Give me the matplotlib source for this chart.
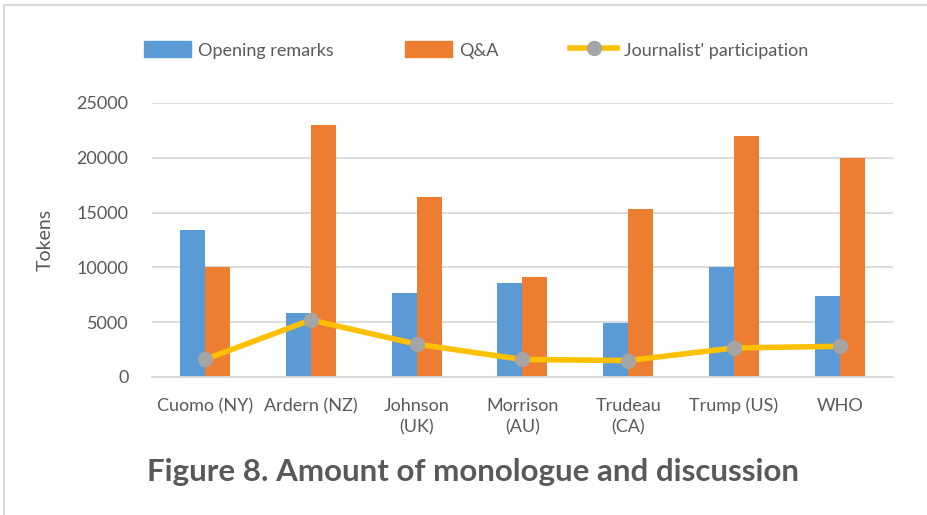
import numpy as np
import matplotlib
matplotlib.use('Agg')
import matplotlib.pyplot as plt
from matplotlib.lines import Line2D
from matplotlib.patches import Patch

plt.rcParams['font.family'] = ['Lato', 'DejaVu Sans']

speakers = ['Cuomo (NY)', 'Ardern (NZ)', 'Johnson\n(UK)', 'Morrison\n(AU)',
            'Trudeau\n(CA)', 'Trump (US)', 'WHO']
opening = [13400, 5850, 7650, 8600, 4900, 10030, 7400]
qa = [10030, 23000, 16450, 9100, 15330, 21950, 19950]
journalist = [1600, 5200, 3000, 1600, 1500, 2650, 2800]

blue = '#5B9BD5'
orange = '#ED7D31'
yellow = '#FFC000'
grey = '#A5A5A5'
txt = '#595959'

fig = plt.figure(figsize=(9.28, 5.15), dpi=100)
ax = fig.add_axes([0.1638, 0.268, 0.7982, 0.532])

x = np.arange(len(speakers))
w = 0.236
ax.bar(x - w / 2, opening, w, color=blue, zorder=2)
ax.bar(x + w / 2, qa, w, color=orange, zorder=2)
ax.plot(x, journalist, color=yellow, lw=4, marker='o', markersize=10,
        markerfacecolor=grey, markeredgecolor=grey, zorder=3)

ax.set_xlim(-0.5, len(speakers) - 0.5)
ax.set_ylim(0, 25000)
ax.set_yticks(np.arange(0, 25001, 5000))
ax.yaxis.grid(True, color='#D9D9D9', lw=1.3, zorder=0)
ax.set_axisbelow(True)
for s in ['top', 'right', 'left']:
    ax.spines[s].set_visible(False)
ax.spines['bottom'].set_color('#D9D9D9')
ax.spines['bottom'].set_linewidth(1.3)
ax.tick_params(axis='both', length=0, labelsize=13, colors=txt)
ax.tick_params(axis='y', pad=17)
ax.tick_params(axis='x', pad=15)
ax.set_xticks(x)
ax.set_xticklabels(speakers, linespacing=1.45)
ax.set_ylabel('Tokens', fontsize=14, color=txt, labelpad=16)

handles = [Patch(color=blue), Patch(color=orange),
           Line2D([], [], color=yellow, lw=4, marker='o', markersize=10,
                  markerfacecolor=grey, markeredgecolor=grey)]
fig.legend(handles, ['Opening remarks', 'Q&A', "Journalist' participation"],
           loc='center', bbox_to_anchor=(0.513, 0.903), ncol=3, frameon=False,
           fontsize=13, labelcolor=txt, handlelength=2.6, handleheight=1.0,
           handletextpad=0.35, columnspacing=4.0)

fig.text(0.158, 0.083, 'Figure 8. Amount of monologue and discussion',
         fontsize=22.5, fontweight='bold', color=txt, va='center', ha='left')

# thin frame left and top, as in the screenshot
fig.add_artist(Line2D([0.004, 0.004], [0, 0.99], color='#D9D9D9', lw=1.5))
fig.add_artist(Line2D([0.004, 1.0], [0.99, 0.99], color='#D9D9D9', lw=1.5))

fig.savefig('out.png', dpi=100)
